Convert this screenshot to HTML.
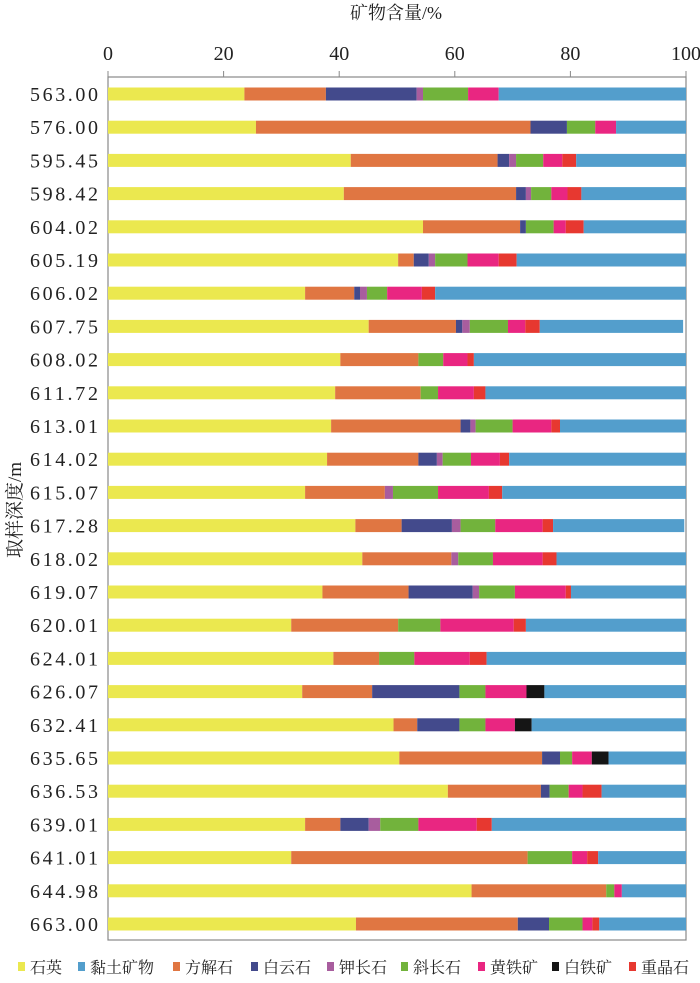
<!DOCTYPE html>
<html><head><meta charset="utf-8"><style>
body{margin:0;background:#fff;}
svg text{font-family:"Liberation Serif","Noto Serif CJK SC","Noto Sans CJK SC",serif;fill:#222;}
</style></head><body>
<svg id="chart" width="700" height="978" viewBox="0 0 700 978" xmlns="http://www.w3.org/2000/svg">
<text x="396" y="19" font-size="18" text-anchor="middle">矿物含量/%</text>
<text transform="translate(21,510) rotate(-90)" font-size="19" text-anchor="middle">取样深度/m</text>
<g id="plot"></g>
<g id="legend"></g>
</svg>
<script>
const depths=["563.00","576.00","595.45","598.42","604.02","605.19","606.02","607.75","608.02","611.72","613.01","614.02","615.07","617.28","618.02","619.07","620.01","624.01","626.07","632.41","635.65","636.53","639.01","641.01","644.98","663.00"];
const quartz=[23.6,25.6,42.0,40.8,54.5,50.2,34.1,45.1,40.2,39.3,38.6,37.9,34.1,42.8,44.0,37.1,31.7,39.0,33.6,49.4,50.4,58.8,34.1,31.7,62.9,42.9];
const calcite=[14.1,47.5,25.4,29.8,16.8,2.7,8.5,15.1,13.5,14.8,22.4,15.8,13.8,8.0,15.4,14.9,18.5,7.9,12.1,4.1,24.7,16.1,6.1,40.9,23.3,28.0];
const dolomite=[15.7,6.3,2.0,1.7,1.0,2.6,1.0,1.1,0,0,1.7,3.2,0,8.7,0,11.1,0,0,15.1,7.3,3.1,1.5,4.9,0,0,5.4];
const kfeldspar=[1.1,0,1.2,0.9,0,1.1,1.2,1.3,0,0,0.9,1.0,1.4,1.5,1.2,1.1,0,0,0,0,0,0,2.0,0,0,0];
const plagioclase=[7.8,4.9,4.7,3.5,4.8,5.6,3.5,6.6,4.3,3.0,6.4,4.9,7.8,6.0,6.0,6.2,7.3,6.1,4.5,4.5,2.1,3.3,6.6,7.7,1.4,5.8];
const pyrite=[5.3,3.6,3.3,2.8,2.1,5.4,6.0,3.0,4.2,6.2,6.7,5.0,8.8,8.2,8.6,8.8,12.7,9.6,7.1,5.1,3.4,2.4,10.1,2.6,1.3,1.7];
const marcasite=[0,0,0,0,0,0,0,0,0,0,0,0,0,0,0,0,0,0,3.1,2.9,2.9,0,0,0,0,0];
const barite=[0,0,2.4,2.4,3.1,3.1,2.3,2.5,1.1,2.0,1.5,1.6,2.3,1.8,2.4,0.9,2.1,2.9,0,0,0,3.3,2.6,1.9,0,1.2];
const clay=[32.4,12.1,19.0,18.1,17.7,29.3,43.4,24.8,36.7,34.7,21.8,30.6,31.8,22.7,22.4,19.9,27.7,34.5,24.5,26.7,13.4,14.6,33.6,15.2,11.1,15.0];
const xTicks=[0,20,40,60,80,100];
const seriesNames=["石英","方解石","白云石","钾长石","斜长石","黄铁矿","白铁矿","重晶石","黏土矿物"];
const seriesData=[quartz,calcite,dolomite,kfeldspar,plagioclase,pyrite,marcasite,barite,clay];
const colors=["#ebe84f","#e07642","#434a8c","#a85d9e","#72b33c","#e92681","#151515","#e73830","#539ecc"];
const slug=["quartz","calcite","dolomite","k-feldspar","plagioclase","pyrite","marcasite","barite","clay"];
const legendOrder=[0,8,1,2,3,4,5,6,7];
const legendX=[18,78,173,251,327,401,478,552,629];

const NS="http://www.w3.org/2000/svg";
const L=108,R=686,T=77,B=940;
const x=v=>L+v/100*(R-L);
const y0=94,step=(924-94)/(depths.length-1);
const y=i=>y0+i*step;
const plot=document.getElementById('plot');
function mk(tag,a,p){const e=document.createElementNS(NS,tag);for(const k in a)e.setAttribute(k,a[k]);(p||plot).appendChild(e);return e;}
const frame=mk('rect',{x:L,y:T,width:R-L,height:B-T,fill:'none',stroke:'#888','stroke-width':1.2});


xTicks.forEach(t=>{
  const ln=mk('line',{x1:x(t),x2:x(t),y1:T-6,y2:T,stroke:'#888','stroke-width':1});
  
  
  const tx=mk('text',{x:x(t),y:60,'font-size':20,'text-anchor':'middle'});
  tx.textContent=t;
  
  
});
depths.forEach((d,i)=>{
  const tx=mk('text',{x:30,y:y(i)+7,'font-size':20,textLength:68,lengthAdjust:'spacing'});
  tx.textContent=d;
  
  
  let acc=0;
  seriesData.forEach((s,k)=>{
    const v=s[i];
    if(v>0){
      const r=mk('rect',{x:x(acc),y:y(i)-6.5,width:x(acc+v)-x(acc),height:13,fill:colors[k]});
      
      
    }
    acc+=v;
  });
});
const lg=document.getElementById('legend');
legendOrder.forEach((k,j)=>{
  const r=mk('rect',{x:legendX[j],y:962,width:7,height:9,fill:colors[k]},lg);
  
  
  const t=mk('text',{x:legendX[j]+12,y:973,'font-size':16},lg);
  t.textContent=seriesNames[k];
  
  
});
</script>
</body></html>
